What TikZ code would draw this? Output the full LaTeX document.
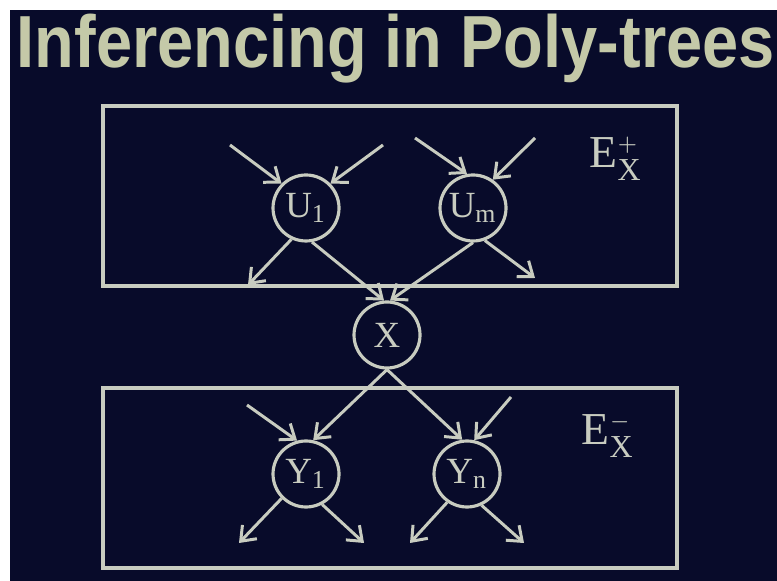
\documentclass[tikz,border=0pt]{standalone}
\usepackage{fontspec}
\setmainfont{Liberation Serif}
\setsansfont{Liberation Sans}
\setmathrm{Liberation Serif}
\usepackage{tikz}
\usetikzlibrary{arrows.meta}

\definecolor{slidebg}{RGB}{8,11,42}
\definecolor{chalk}{RGB}{200,204,192}
\definecolor{titlecol}{RGB}{196,201,168}

\begin{document}
\begin{tikzpicture}[x=0.1mm, y=-0.1mm, every node/.style={text=chalk}, var/.style={draw=chalk, circle, line width=0.9pt, minimum size=6.6mm, inner sep=0pt, font=\fontsize{10.5}{10.5}\selectfont}, evbox/.style={draw=chalk, line width=1pt, minimum width=57.4mm, minimum height=18mm, inner sep=0pt}, evlabel/.style={anchor=base west, inner sep=0pt, font=\fontsize{13}{13}\selectfont}, arr/.style={-{Straight Barb[length=1.3mm,width=2mm]}, draw=chalk, line width=0.85pt}]
\useasboundingbox (0,0) rectangle (777,581);
\fill[white] (0,0) rectangle (777,581);
\fill[slidebg] (10,10) rectangle (777,581);
\node[anchor=base west, inner sep=0pt, text=titlecol, font=\sffamily\bfseries\fontsize{21}{21}\selectfont] (title) at (16,68) {\scalebox{0.88}[1]{Inferencing in Poly-trees}};
% evidence boxes
\node[evbox] (upper) at (390,196) {};
\node[evbox] (lower) at (390,478) {};
\node[evlabel] (eplus) at (589,168) {$\mathrm{E}_{\mathrm{X}}^{\scriptscriptstyle +}$};
\node[evlabel] (eminus) at (581,445) {$\mathrm{E}_{\mathrm{X}}^{\scriptscriptstyle -}$};
% variables
\node[var] (X) at (387,335) {$\mathrm{X}$};
\node[var] (U1) at (306,208) {$\mathrm{U}_{\mathrm{1}}$};
\node[var] (Um) at (473,208) {$\mathrm{U}_{\mathrm{m}}$};
\node[var] (Y1) at (306,474) {$\mathrm{Y}_{\mathrm{1}}$};
\node[var] (Yn) at (467,474) {$\mathrm{Y}_{\mathrm{n}}$};
% loose ends
\coordinate (u1p1) at (230,145); \coordinate (u1p2) at (383,145); \coordinate (u1c) at (248,285);
\coordinate (ump1) at (415,138); \coordinate (ump2) at (535,138); \coordinate (umc) at (535,278);
\coordinate (y1p) at (247,405); \coordinate (y1c1) at (239,543); \coordinate (y1c2) at (364,543);
\coordinate (ynp) at (511,397); \coordinate (ync1) at (410,543); \coordinate (ync2) at (524,543);
\draw[arr] (u1p1) -- (U1.135); \draw[arr] (u1p2) -- (U1.45); \draw[arr] (U1.245) -- (u1c); \draw[arr] (U1.-80) -- (X.95);
\draw[arr] (ump1) -- (Um.100); \draw[arr] (ump2) -- (Um.55); \draw[arr] (Um.-90) -- (X.85); \draw[arr] (Um.-70) -- (umc);
\draw[arr] (X.-90) -- (Y1.78); \draw[arr] (X.-90) -- (Yn.98); \draw[arr] (y1p) -- (Y1.105); \draw[arr] (ynp) -- (Yn.78);
\draw[arr] (Y1.225) -- (y1c1); \draw[arr] (Y1.-62) -- (y1c2); \draw[arr] (Yn.235) -- (ync1); \draw[arr] (Yn.-65) -- (ync2);
\end{tikzpicture}
\end{document}
